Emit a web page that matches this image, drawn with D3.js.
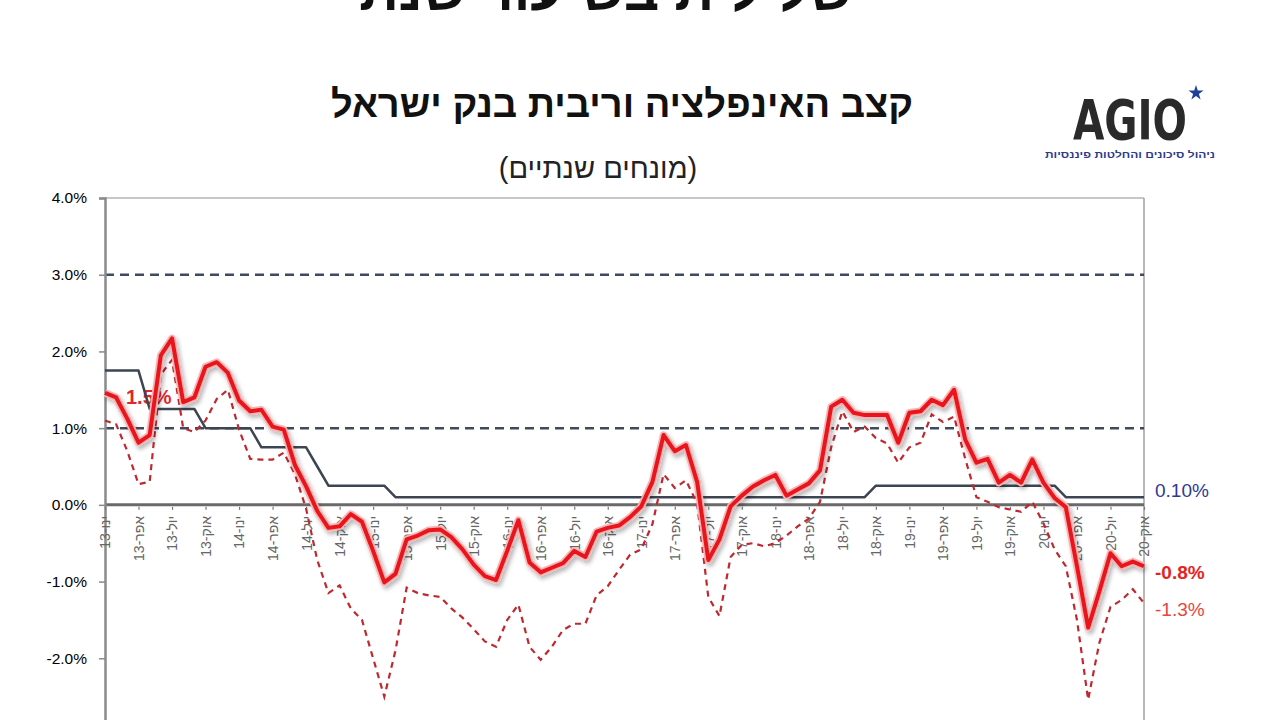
<!DOCTYPE html>
<html lang="he">
<head>
<meta charset="utf-8">
<script src="https://cdn.jsdelivr.net/npm/d3@7"></script>
<style>
  html, body { margin: 0; padding: 0; background: #fff; }
  svg { display: block; font-family: "Liberation Sans", Arial, sans-serif; }
</style>
</head>
<body>
<div id="chart"></div>
<script>
// monthly series, Jan-13 .. Oct-20 (94 months)
const inflation = [
  1.46, 1.40, 1.12, 0.81, 0.91, 1.95, 2.17, 1.34, 1.40, 1.80,
  1.86, 1.72, 1.36, 1.22, 1.24, 1.02, 0.98, 0.52, 0.24, -0.08,
  -0.30, -0.28, -0.12, -0.22, -0.60, -1.01, -0.90, -0.45, -0.40, -0.33,
  -0.32, -0.42, -0.58, -0.78, -0.93, -0.98, -0.60, -0.20, -0.75, -0.88,
  -0.82, -0.76, -0.60, -0.68, -0.35, -0.30, -0.27, -0.16, -0.02, 0.30,
  0.91, 0.70, 0.78, 0.30, -0.72, -0.45, -0.02, 0.12, 0.24, 0.32,
  0.39, 0.12, 0.20, 0.28, 0.45, 1.28, 1.37, 1.20, 1.17, 1.17,
  1.17, 0.81, 1.20, 1.22, 1.37, 1.30, 1.50, 0.85, 0.55, 0.60,
  0.29, 0.39, 0.29, 0.59, 0.29, 0.09, -0.03, -0.80, -1.60, -1.13,
  -0.63, -0.80, -0.74, -0.80
];

const inflationAlt = [
  1.10, 1.05, 0.70, 0.27, 0.30, 1.70, 1.89, 1.00, 0.95, 1.10,
  1.38, 1.50, 0.98, 0.60, 0.59, 0.59, 0.68, 0.40, -0.05, -0.72,
  -1.15, -1.05, -1.35, -1.50, -2.00, -2.50, -1.90, -1.08, -1.15, -1.18,
  -1.20, -1.35, -1.47, -1.62, -1.78, -1.85, -1.50, -1.30, -1.85, -2.02,
  -1.85, -1.63, -1.55, -1.55, -1.18, -1.06, -0.85, -0.65, -0.58, -0.25,
  0.40, 0.22, 0.32, 0.02, -1.20, -1.45, -0.68, -0.52, -0.50, -0.54,
  -0.50, -0.40, -0.28, -0.18, 0.04, 0.75, 1.22, 0.95, 1.02, 0.87,
  0.80, 0.55, 0.75, 0.81, 1.18, 1.08, 1.15, 0.60, 0.10, 0.04,
  -0.03, -0.06, -0.09, 0.04, -0.24, -0.58, -0.80, -1.50, -2.54, -1.80,
  -1.33, -1.24, -1.10, -1.28
];

const boiRate = [
  1.75, 1.75, 1.75, 1.75, 1.25, 1.25, 1.25, 1.25, 1.25, 1.00,
  1.00, 1.00, 1.00, 1.00, 0.75, 0.75, 0.75, 0.75, 0.75, 0.50,
  0.25, 0.25, 0.25, 0.25, 0.25, 0.25, 0.10, 0.10, 0.10, 0.10,
  0.10, 0.10, 0.10, 0.10, 0.10, 0.10, 0.10, 0.10, 0.10, 0.10,
  0.10, 0.10, 0.10, 0.10, 0.10, 0.10, 0.10, 0.10, 0.10, 0.10,
  0.10, 0.10, 0.10, 0.10, 0.10, 0.10, 0.10, 0.10, 0.10, 0.10,
  0.10, 0.10, 0.10, 0.10, 0.10, 0.10, 0.10, 0.10, 0.10, 0.25,
  0.25, 0.25, 0.25, 0.25, 0.25, 0.25, 0.25, 0.25, 0.25, 0.25,
  0.25, 0.25, 0.25, 0.25, 0.25, 0.25, 0.10, 0.10, 0.10, 0.10,
  0.10, 0.10, 0.10, 0.10
];

const quarterLabels = [
  'ינו-13', 'אפר-13', 'יול-13', 'אוק-13',
  'ינו-14', 'אפר-14', 'יול-14', 'אוק-14',
  'ינו-15', 'אפר-15', 'יול-15', 'אוק-15',
  'ינו-16', 'אפר-16', 'יול-16', 'אוק-16',
  'ינו-17', 'אפר-17', 'יול-17', 'אוק-17',
  'ינו-18', 'אפר-18', 'יול-18', 'אוק-18',
  'ינו-19', 'אפר-19', 'יול-19', 'אוק-19',
  'ינו-20', 'אפר-20', 'יול-20', 'אוק-20'
];

const yTicks = [-3, -2, -1, 0, 1, 2, 3, 4];
const targetBand = [1, 3];

const headline = 'שלילית בשיעור שנתי';
const title = 'קצב האינפלציה וריבית בנק ישראל';
const subtitle = '(מונחים שנתיים)';

const width = 1280, height = 720;
const plot = {left: 105, right: 1144, top: 198, bottom: 735};

const svg = d3.select('#chart').append('svg')
  .attr('width', width)
  .attr('height', height);

const defs = svg.append('defs');
const shadow = defs.append('filter').attr('id', 'shadow')
  .attr('x', '-5%').attr('y', '-20%').attr('width', '110%').attr('height', '140%');
shadow.append('feGaussianBlur').attr('in', 'SourceAlpha').attr('stdDeviation', 2.2).attr('result', 'blur');
shadow.append('feOffset').attr('in', 'blur').attr('dx', 2).attr('dy', 3).attr('result', 'off');
shadow.append('feFlood').attr('flood-color', '#000').attr('flood-opacity', 0.28).attr('result', 'col');
shadow.append('feComposite').attr('in', 'col').attr('in2', 'off').attr('operator', 'in').attr('result', 'sh');
const merge = shadow.append('feMerge');
merge.append('feMergeNode').attr('in', 'sh');
merge.append('feMergeNode').attr('in', 'SourceGraphic');

const x = d3.scaleLinear().domain([0, inflation.length - 1]).range([plot.left, plot.right]);
const y = d3.scaleLinear().domain([-3, 4]).range([plot.bottom, plot.top]);

// headings
svg.append('text')
  .attr('x', 598).attr('y', 10)
  .attr('text-anchor', 'middle')
  .attr('font-size', 55).attr('font-weight', 'bold').attr('fill', '#111')
  .text(headline);

svg.append('text')
  .attr('x', 622).attr('y', 117)
  .attr('text-anchor', 'middle')
  .attr('font-size', 38).attr('font-weight', 'bold').attr('fill', '#111')
  .text(title);

svg.append('text')
  .attr('x', 598).attr('y', 178)
  .attr('text-anchor', 'middle')
  .attr('font-size', 29).attr('fill', '#222')
  .text(subtitle);

// logo
const logo = svg.append('g');
logo.append('text')
  .attr('x', 1073).attr('y', 139)
  .attr('font-family', '"Liberation Sans Narrow", "DejaVu Sans Condensed", sans-serif')
  .attr('font-size', 56).attr('font-weight', 'bold').attr('fill', '#2a2a2a')
  .attr('textLength', 114).attr('lengthAdjust', 'spacingAndGlyphs')
  .text('AGIO');
logo.append('path')
  .attr('transform', 'translate(1196,93)')
  .attr('d', d3.symbol(d3.symbolStar, 70)())
  .attr('fill', '#1f3f9a');
logo.append('text')
  .attr('x', 1045).attr('y', 158)
  .attr('font-size', 9.5).attr('font-weight', 'bold').attr('fill', '#2b3a8c')
  .attr('textLength', 170).attr('lengthAdjust', 'spacingAndGlyphs')
  .text('ניהול סיכונים והחלטות פיננסיות');

// frame
svg.append('line')
  .attr('x1', plot.left).attr('x2', plot.right)
  .attr('y1', y(4)).attr('y2', y(4))
  .attr('stroke', '#b5b5b5').attr('stroke-width', 1.5);
svg.append('line')
  .attr('x1', plot.right).attr('x2', plot.right)
  .attr('y1', y(4)).attr('y2', height)
  .attr('stroke', '#a0a0a0').attr('stroke-width', 1.5);

// target band lines
svg.selectAll('line.target')
  .data(targetBand)
  .join('line')
  .attr('class', 'target')
  .attr('x1', plot.left).attr('x2', plot.right)
  .attr('y1', d => y(d)).attr('y2', d => y(d))
  .attr('stroke', '#3e4a5e').attr('stroke-width', 2.5)
  .attr('stroke-dasharray', '9,6');

// zero line
svg.append('line')
  .attr('x1', plot.left).attr('x2', plot.right)
  .attr('y1', y(0)).attr('y2', y(0))
  .attr('stroke', '#6a6a6a').attr('stroke-width', 3);

// y axis
const yAxis = svg.append('g')
  .attr('transform', `translate(${plot.left},0)`)
  .call(d3.axisLeft(y).tickValues(yTicks).tickSize(6).tickPadding(12)
    .tickFormat(d => d.toFixed(1) + '%'));
yAxis.select('.domain').attr('stroke', '#8a8a8a').attr('stroke-width', 2.5);
yAxis.selectAll('.tick line').attr('stroke', '#8a8a8a').attr('stroke-width', 1.5);
yAxis.selectAll('.tick text')
  .attr('font-size', 15.5).attr('fill', '#000')
  .attr('font-family', '"Liberation Sans", Arial, sans-serif');

// x axis (quarterly labels)
const xAxis = svg.append('g')
  .attr('transform', `translate(0,${y(0)})`)
  .call(d3.axisBottom(x)
    .tickValues(quarterLabels.map((d, i) => i * 3))
    .tickSize(5).tickPadding(4)
    .tickFormat((d, i) => quarterLabels[i]));
xAxis.select('.domain').remove();
xAxis.selectAll('.tick line').attr('stroke', '#777').attr('stroke-width', 1.2).attr('y1', 2);
xAxis.selectAll('.tick text')
  .attr('font-size', 14).attr('fill', '#666')
  .attr('font-family', '"Liberation Sans", Arial, sans-serif')
  .attr('text-anchor', 'end')
  .attr('transform', 'rotate(-90)')
  .attr('x', -11).attr('y', 0).attr('dy', '0.35em');

// annotation behind lines
svg.append('text')
  .attr('x', 126).attr('y', 404)
  .attr('font-size', 20).attr('font-weight', 'bold').attr('fill', '#e3262a')
  .text('1.5%');

const line = d3.line().x((d, i) => x(i)).y(d => y(d));

svg.append('path')
  .datum(boiRate)
  .attr('fill', 'none')
  .attr('stroke', '#3c4552').attr('stroke-width', 2.5)
  .attr('stroke-linejoin', 'round')
  .attr('d', line);

svg.append('path')
  .datum(inflationAlt)
  .attr('fill', 'none')
  .attr('stroke', '#c0282d').attr('stroke-width', 2.2)
  .attr('stroke-dasharray', '6,5')
  .attr('d', line);

svg.append('path')
  .datum(inflation)
  .attr('fill', 'none')
  .attr('stroke', '#f7b3b3').attr('stroke-width', 7.5)
  .attr('stroke-linejoin', 'round')
  .attr('filter', 'url(#shadow)')
  .attr('d', line);

svg.append('path')
  .datum(inflation)
  .attr('fill', 'none')
  .attr('stroke', '#e8161c').attr('stroke-width', 4)
  .attr('stroke-linejoin', 'round')
  .attr('d', line);

// end-of-series labels
const endLabels = [
  {text: '0.10%', value: boiRate[boiRate.length - 1], dy: -7, color: '#2e3a8f', weight: 'normal'},
  {text: '-0.8%', value: inflation[inflation.length - 1], dy: 6, color: '#e3241b', weight: 'bold'},
  {text: '-1.3%', value: inflationAlt[inflationAlt.length - 1], dy: 6, color: '#e8453f', weight: 'normal'}
];
svg.selectAll('text.end')
  .data(endLabels)
  .join('text')
  .attr('class', 'end')
  .attr('x', 1155)
  .attr('y', d => y(d.value) + d.dy)
  .attr('dy', '0.35em')
  .attr('font-size', 19)
  .attr('font-weight', d => d.weight)
  .attr('fill', d => d.color)
  .text(d => d.text);
</script>
</body>
</html>
